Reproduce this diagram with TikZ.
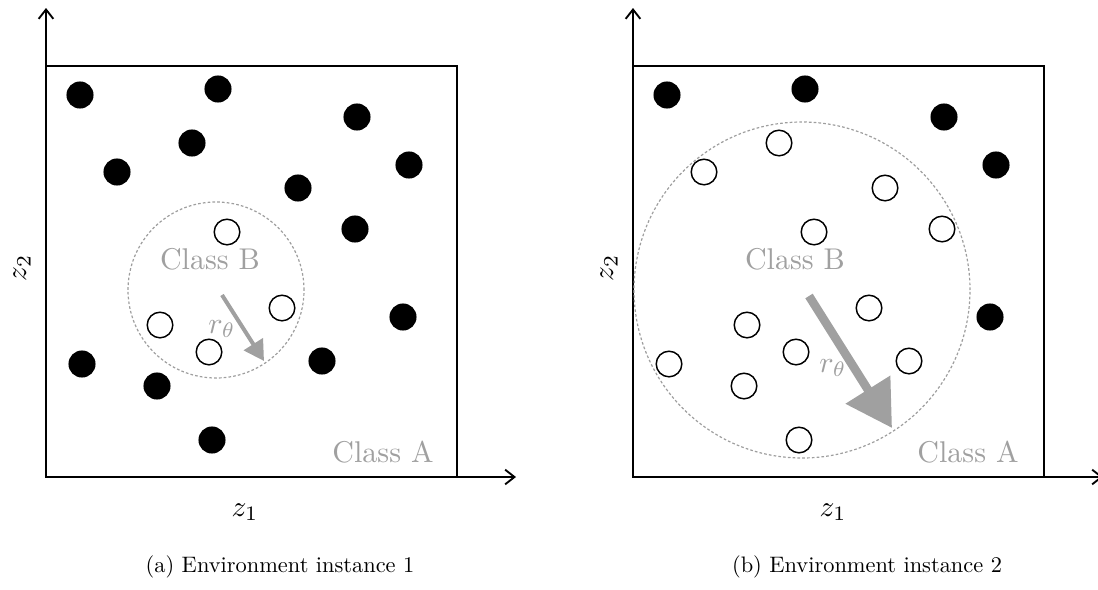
\documentclass[tikz,border=0pt]{standalone}
\usetikzlibrary{arrows.meta}
\definecolor{lightgr}{RGB}{160,160,160}
\definecolor{dashgr}{RGB}{158,158,158}
\tikzset{
  dotA/.style={circle, fill=black, inner sep=0pt, minimum size=20.3pt},
  dotB/.style={circle, draw=black, line width=1.1pt, fill=white, inner sep=0pt, minimum size=19.2pt},
  axisline/.style={line width=1.5pt, -{Straight Barb[length=7pt,width=11pt,line width=1.4pt]}},
  frameline/.style={line width=1.1pt},
  region/.style={circle, draw=dashgr, dash pattern=on 2pt off 1.6pt, line width=0.9pt, inner sep=0pt},
  lbl/.style={text=lightgr, font=\normalsize, scale=2.25, inner sep=0pt},
  axlbl/.style={font=\normalsize, scale=2.2, inner sep=0pt},
  captext/.style={font=\normalsize, scale=1.68, inner sep=0pt},
  radarrow/.style={draw=lightgr, line width=#1},
}
\begin{document}
\begin{tikzpicture}[x=0.75pt, y=-0.75pt]
\useasboundingbox (0,0) rectangle (1098,589);

% ---------- panel (a) ----------
\coordinate (aO) at (46,477);
\coordinate (aY) at (46,8);
\coordinate (aX) at (516,477);
\coordinate (aTL) at (46,66);
\coordinate (aBR) at (457,477);
\draw[frameline] (aTL) rectangle (aBR);
\draw[axisline] (aO) -- (aY);
\draw[axisline] (aO) -- (aX);

\node[region, minimum size=132pt] (aR) at (216,290) {};

% ---------- panel (b) ----------
\coordinate (bO) at (633,477);
\coordinate (bY) at (633,8);
\coordinate (bX) at (1103,477);
\coordinate (bTL) at (633,66);
\coordinate (bBR) at (1044,477);
\draw[frameline] (bTL) rectangle (bBR);
\draw[axisline] (bO) -- (bY);
\draw[axisline] (bO) -- (bX);

\node[region, minimum size=252pt] (bR) at (802,290) {};

% ---------- points ----------
\foreach \n/\x/\y/\sa/\sb in {
  1/80/95/dotA/dotA,
  2/218/89/dotA/dotA,
  3/357/117/dotA/dotA,
  4/192/143/dotA/dotB,
  5/117/172/dotA/dotB,
  6/409/165/dotA/dotA,
  7/298/188/dotA/dotB,
  8/355/229/dotA/dotB,
  9/403/317/dotA/dotA,
  10/82/364/dotA/dotB,
  11/322/361/dotA/dotB,
  12/157/386/dotA/dotB,
  13/212/440/dotA/dotB,
  14/227/232/dotB/dotB,
  15/160/325/dotB/dotB,
  16/282/308/dotB/dotB,
  17/209/352/dotB/dotB}{
  \node[\sa] (a\n) at (\x,\y) {};
  \node[\sb] (b\n) at (\x+587,\y) {};
}

% ---------- radius arrows ----------
\coordinate (ra0) at (222,295);
\coordinate (ra1) at (264,361);
\draw[radarrow=3pt, -{Triangle[length=15pt,width=16.5pt]}] (ra0) -- (ra1);
\coordinate (rb0) at (809,296);
\coordinate (rb1) at (892,428);
\draw[radarrow=6.5pt, -{Triangle[length=34pt,width=38pt]}] (rb0) -- (rb1);

% ---------- labels ----------
\node[lbl] (aB) at (210,259) {Class B};
\node[lbl] (aA) at (383,452) {Class A};
\node[lbl] (ar) at (222,329) {$r_\theta$};
\node[axlbl] (az1) at (245,512) {$z_1$};
\node[axlbl, rotate=90] (az2) at (22,268) {$z_2$};
\node[captext] (acap) at (280,567) {(a) Environment instance 1};

\node[lbl] (bB) at (795,259) {Class B};
\node[lbl] (bA) at (968,452) {Class A};
\node[lbl] (br) at (833,368) {$r_\theta$};
\node[axlbl] (bz1) at (833,512) {$z_1$};
\node[axlbl, rotate=90] (bz2) at (609,268) {$z_2$};
\node[captext] (bcap) at (867,567) {(b) Environment instance 2};
\end{tikzpicture}
\end{document}
